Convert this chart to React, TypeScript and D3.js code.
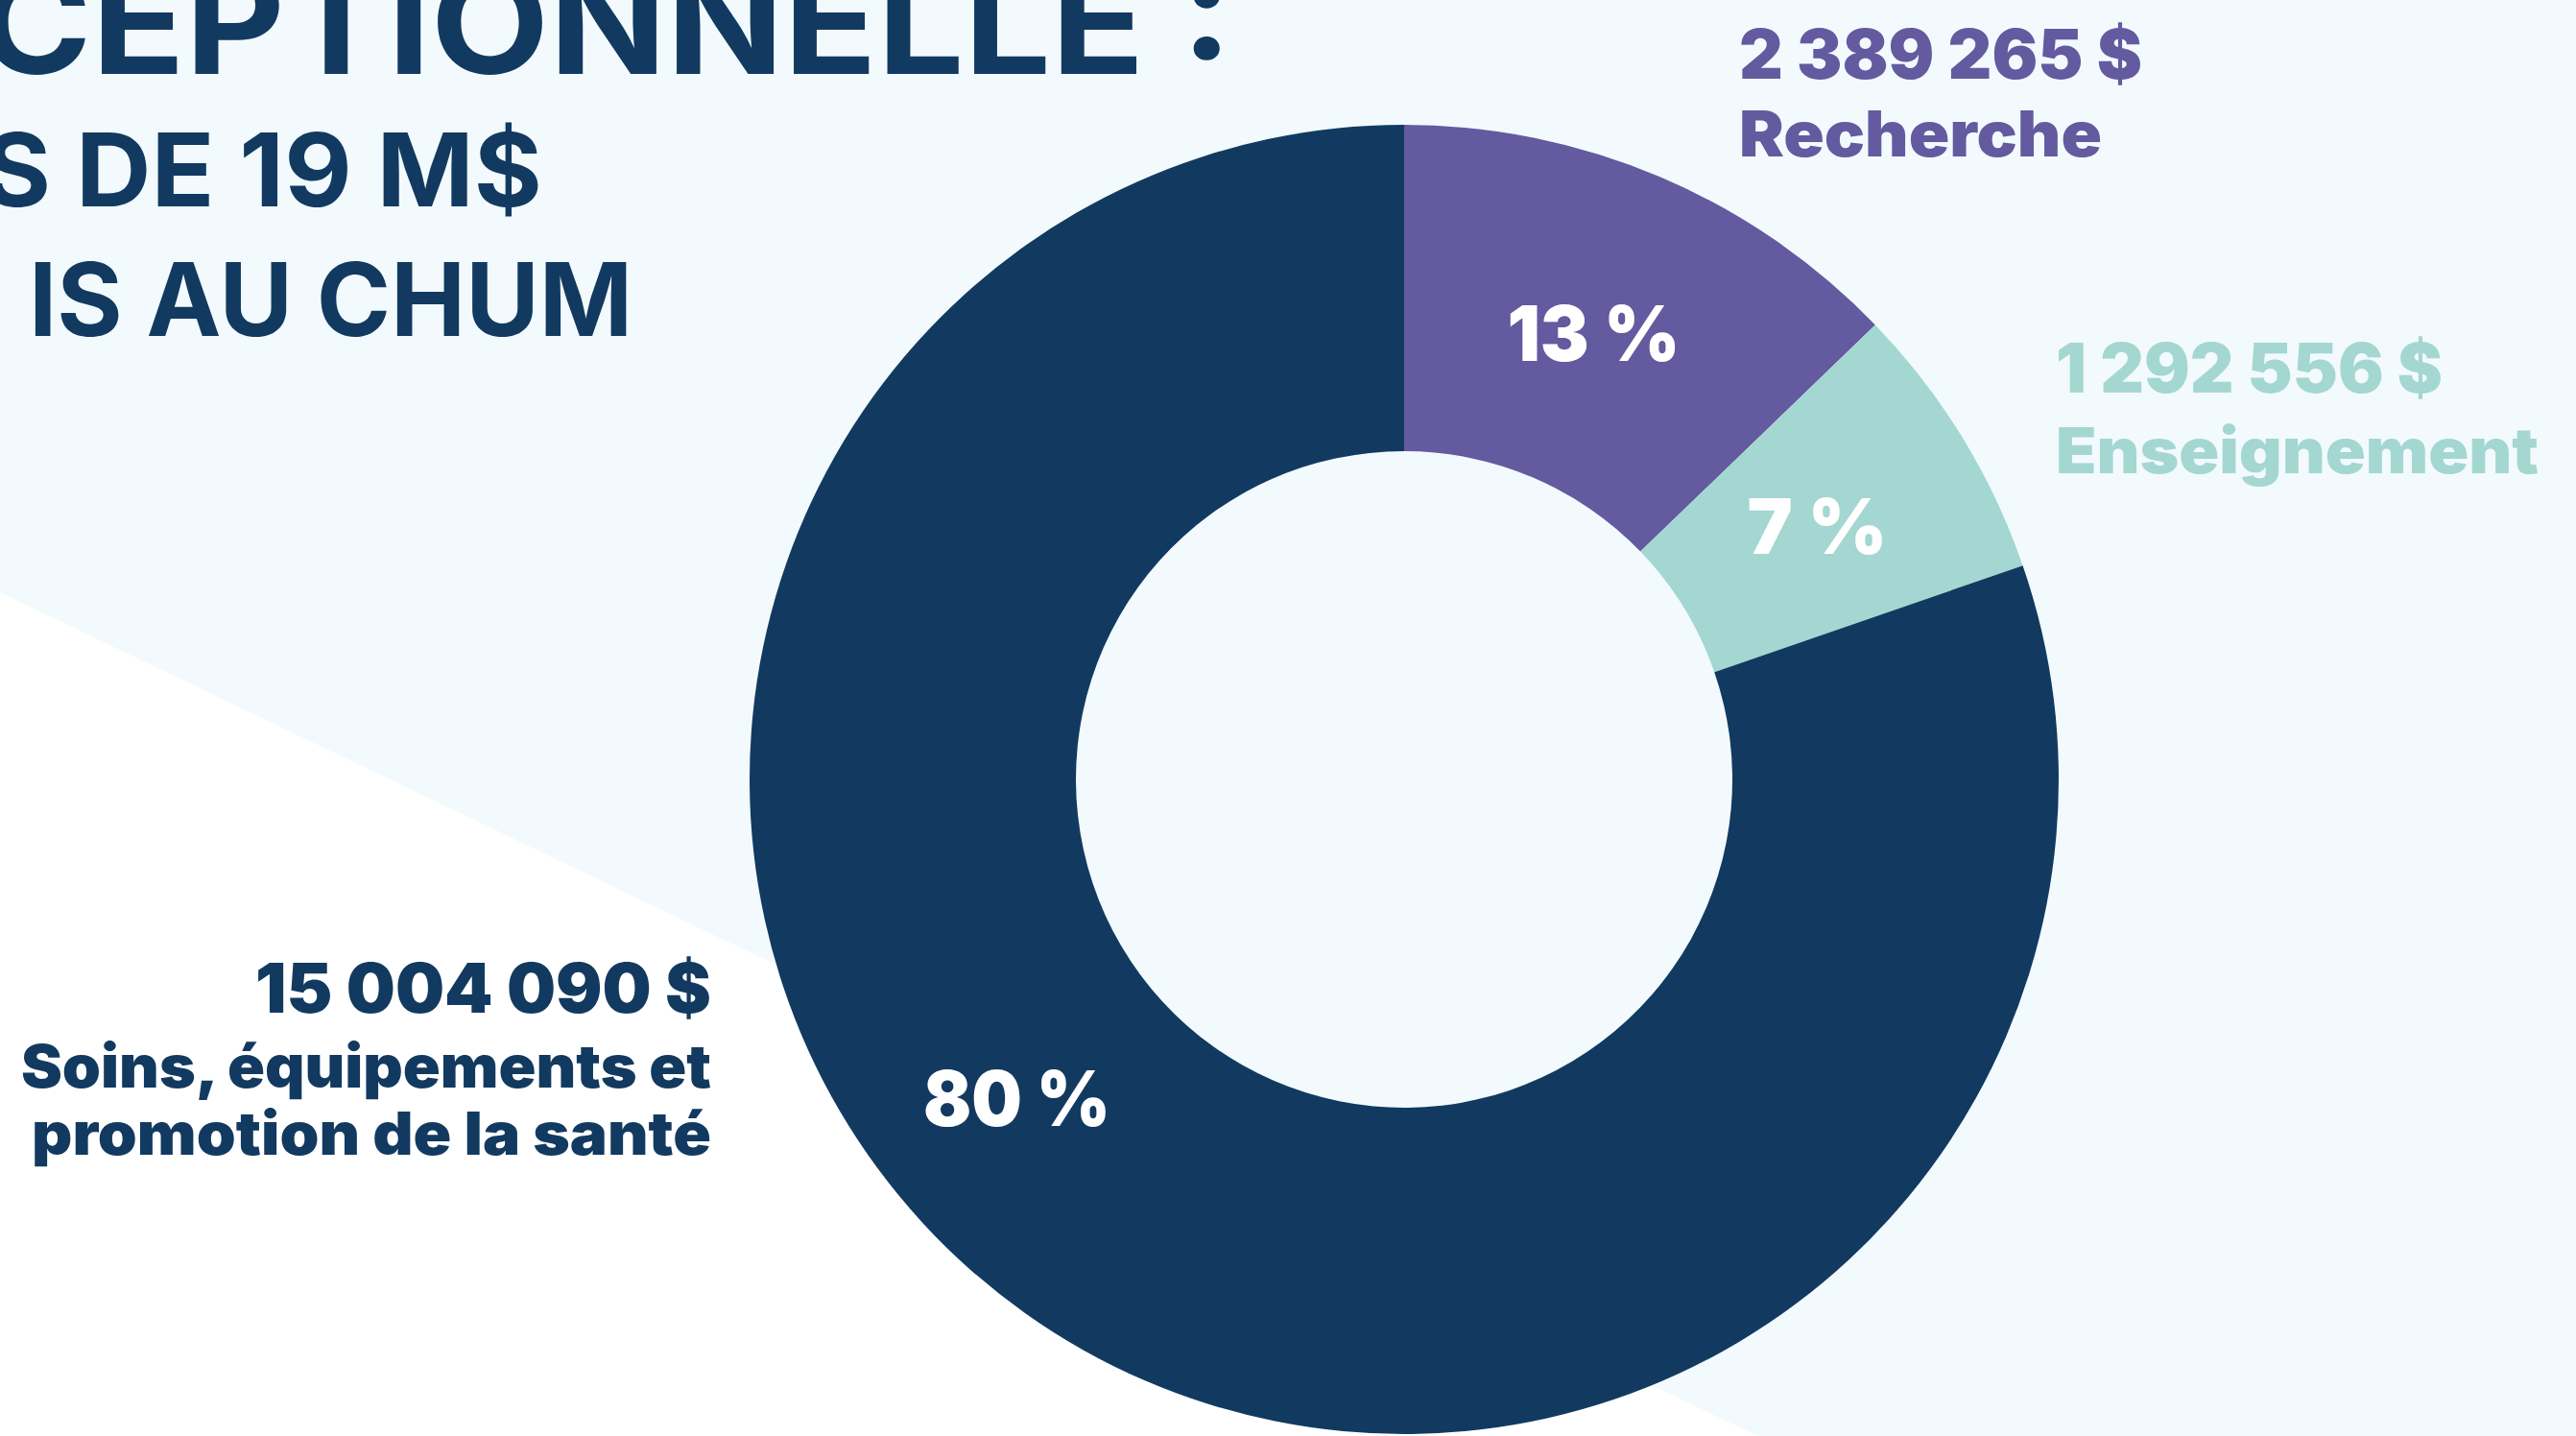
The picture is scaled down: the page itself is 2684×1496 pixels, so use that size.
import { useMemo } from "react";
import * as d3 from "d3";

const CATEGORIES = ["Recherche", "Enseignement", "Soins, équipements et promotion de la santé"];
const AMOUNTS = [2389265, 1292556, 15004090];
const COLORS = ["#645a9f", "#a4d7d1", "#123a60"];
// the title is cropped by the left edge of the picture
const TITLE_LINES = ["CEPTIONNELLE :", "S DE 19 M$", "IS AU CHUM"];

const W = 2684;
const H = 1496;
const BG = "#f2fafd";
const NAVY = "#123a60";
const FONT = "Inter, 'Open Sans', sans-serif";

const fr = d3.formatLocale({ decimal: ",", thousands: " ", grouping: [3], currency: ["", " $"] });
const money = (v: number) => fr.format(",d")(v) + " $";

function FitText({ x, y, len, size, children, anchor = "start", weight = 900, fill, dy }: {
  x: number;
  y: number;
  len: number;
  size: number;
  children: string;
  anchor?: string;
  weight?: number;
  fill?: string;
  dy?: string;
}) {
  return (
    <text
      x={x}
      y={y}
      dy={dy}
      fontSize={size}
      fontWeight={weight}
      fill={fill}
      textAnchor={anchor}
      textLength={len}
      lengthAdjust="spacingAndGlyphs"
    >
      {children}
    </text>
  );
}

export default function App() {
  const cx = 1463;
  const cy = 812;
  const outerR = 682;
  const innerR = 342;

  const arcs = useMemo(() => {
    const pie = d3.pie<number>().sort(null).value((d) => d);
    return pie(AMOUNTS);
  }, []);

  const total = d3.sum(AMOUNTS);
  const arcGen = d3.arc<d3.PieArcDatum<number>>().innerRadius(innerR).outerRadius(outerR);

  // label point for the percentages (the big slice has its label pushed towards lower left)
  const pctPos = (a: d3.PieArcDatum<number>, i: number) => {
    const frac = i === 2 ? 0.552 : 0.5;
    const r = i === 2 ? 523 : 505;
    const ang = a.startAngle + (a.endAngle - a.startAngle) * frac;
    return [Math.sin(ang) * r, -Math.cos(ang) * r];
  };
  const pctWidth = [180, 146, 195];

  return (
    <svg
      width={W}
      height={H}
      viewBox={`0 0 ${W} ${H}`}
      style={{ position: "absolute", left: 0, top: 0, display: "block" }}
      fontFamily={FONT}
    >
      <rect width={W} height={H} fill={BG} />
      {/* white diagonal band bottom-left */}
      <polygon points={`0,617 ${W},${617 + 0.48 * W} 0,${H + 2000}`} fill="#ffffff" />

      {/* title */}
      <g fill={NAVY}>
        <FitText x={-23} y={77} len={1307} size={148} weight={700}>{TITLE_LINES[0]}</FitText>
        <FitText x={-18} y={215} len={583} size={106} weight={700}>{TITLE_LINES[1]}</FitText>
        <FitText x={30} y={350} len={629} size={106} weight={700}>{TITLE_LINES[2]}</FitText>
      </g>

      <g transform={`translate(${cx},${cy})`}>
        {arcs.map((a, i) => (
          <path key={CATEGORIES[i]} d={arcGen(a) || ""} fill={COLORS[i]} />
        ))}
        {arcs.map((a, i) => {
          const [x, y] = pctPos(a, i);
          return (
            <FitText
              key={"p" + i}
              x={x}
              y={y}
              dy="0.36em"
              anchor="middle"
              fill="#ffffff"
              size={80}
              len={pctWidth[i]}
            >
              {Math.round((a.value / total) * 100) + " %"}
            </FitText>
          );
        })}
      </g>

      {/* category labels */}
      <g fill={COLORS[0]}>
        <FitText x={1812} y={82} size={71} len={420}>{money(AMOUNTS[0])}</FitText>
        <FitText x={1812} y={163} size={66} len={378}>{CATEGORIES[0]}</FitText>
      </g>
      <g fill={COLORS[1]}>
        <FitText x={2142} y={409} size={71} len={403}>{money(AMOUNTS[1])}</FitText>
        <FitText x={2142} y={493} size={66} len={503}>{CATEGORIES[1]}</FitText>
      </g>
      <g fill={COLORS[2]}>
        <FitText x={741} y={1055} size={71} len={475} anchor="end">{money(AMOUNTS[2])}</FitText>
        <FitText x={741} y={1133} size={62} len={719} anchor="end">Soins, équipements et</FitText>
        <FitText x={741} y={1203} size={62} len={708} anchor="end">promotion de la santé</FitText>
      </g>
    </svg>
  );
}
